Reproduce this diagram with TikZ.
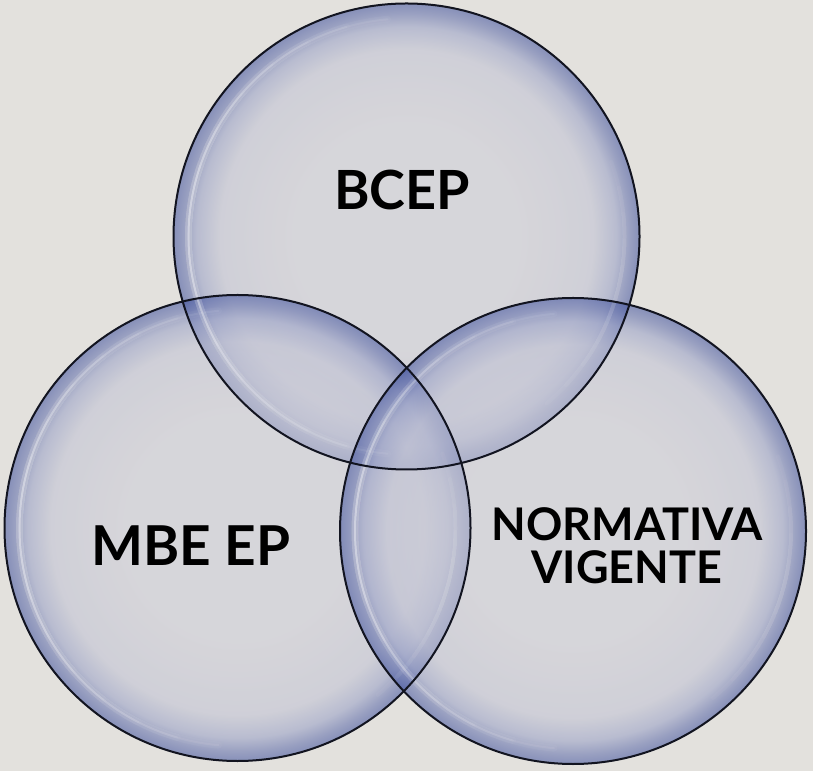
\documentclass[tikz,border=0pt]{standalone}
\usepackage{fontspec}
\setmainfont{Lato}
\definecolor{bg}{RGB}{227,225,221}
\definecolor{vc0}{RGB}{205,205,216}
\definecolor{vc1}{RGB}{192,194,212}
\definecolor{vc2}{RGB}{150,158,198}
\definecolor{vc3}{RGB}{92,106,170}
\definecolor{vc4}{RGB}{60,78,156}
\definecolor{rimline}{RGB}{18,20,32}
\pgfdeclareradialshading{venn}{\pgfpoint{0bp}{0bp}}{color(0bp)=(vc0); color(12bp)=(vc0); color(20bp)=(vc1); color(22.5bp)=(vc2); color(24bp)=(vc3); color(25bp)=(vc4); color(50bp)=(vc4)}
\tikzset{
  venncirc/.style={circle, minimum size=466pt, inner sep=0pt, shading=venn, fill opacity=0.55},
  hlsoft/.style={white, line width=7pt, draw opacity=0.035, line cap=round},
  hlcore/.style={white, line width=2pt, draw opacity=0.07, line cap=round},
  hlfaint/.style={white, line width=4pt, draw opacity=0.035, line cap=round},
  outline/.style={draw=rimline, line width=2pt},
  label/.style={text=black, inner sep=0pt, align=center}
}
\begin{document}
\begin{tikzpicture}[x=1pt,y=1pt]
\fill[bg] (0,0) rectangle (813,771);
\useasboundingbox (0,0) rectangle (813,771);
\node[venncirc] (top) at (406.5,534.5) {};
\node[venncirc] (left) at (237.5,243) {};
\node[venncirc] (right) at (573,240) {};
% highlights (graded arcs)
\foreach \c in {top,left,right}{
  \foreach \k in {0,...,6}{
    \pgfmathsetmacro{\sa}{95+\k*11}
    \pgfmathsetmacro{\ea}{265-\k*11}
    \draw[hlsoft] ([shift={(\sa:218)}]\c.center) arc[start angle=\sa, end angle=\ea, radius=218];
    \draw[hlcore] ([shift={(\sa:218)}]\c.center) arc[start angle=\sa, end angle=\ea, radius=218];
  }
  \foreach \k in {0,...,4}{
    \pgfmathsetmacro{\sa}{-50+\k*7}
    \pgfmathsetmacro{\ea}{20-\k*7}
    \draw[hlfaint] ([shift={(\sa:218)}]\c.center) arc[start angle=\sa, end angle=\ea, radius=218];
  }
}
% outlines
\foreach \c in {top,left,right}{
  \draw[outline] (\c.center) circle (233);
}
\node[label, font=\fontsize{54}{60}\selectfont\bfseries] (tBCEP) at (402,581) {BCEP};
\node[label, font=\fontsize{55}{60}\selectfont\bfseries] (tMBE) at (191,225) {MBE EP};
\node[label, font=\fontsize{45}{43}\selectfont\bfseries] (tNORM) at (627,225) {NORMATIVA\\VIGENTE};
\end{tikzpicture}
\end{document}
